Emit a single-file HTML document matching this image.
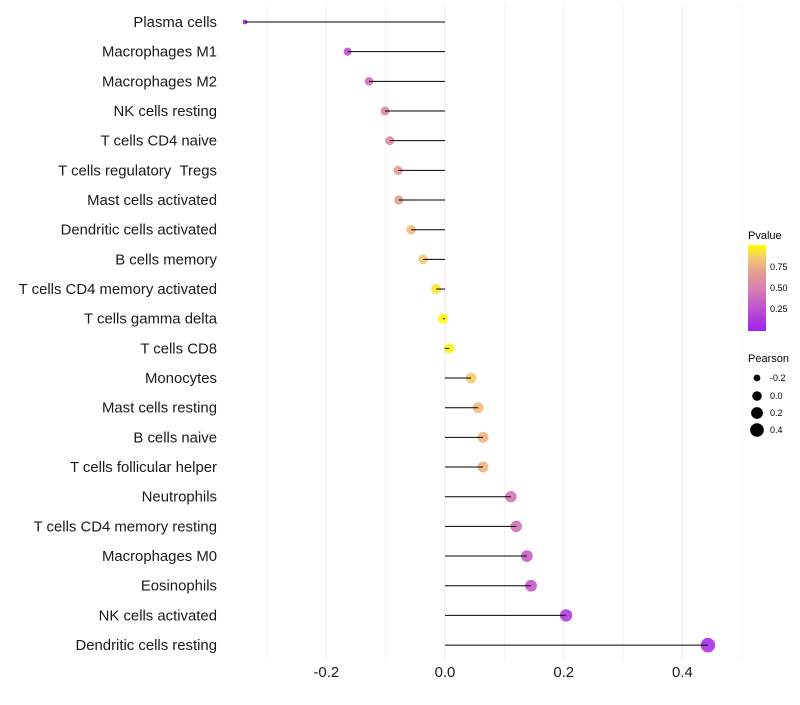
<!DOCTYPE html>
<html><head><meta charset="utf-8"><style>
body{margin:0;background:#fff;font-family:"Liberation Sans",Arial,sans-serif}
svg text{font-family:"Liberation Sans",Arial,sans-serif}
</style></head><body>
<svg id="chart" width="800" height="700">
<defs>
<linearGradient id="pg" x1="0" y1="1" x2="0" y2="0">
<stop offset="0" stop-color="#a020f0"/><stop offset="0.5" stop-color="#d880b0"/><stop offset="0.7" stop-color="#e8a090"/><stop offset="0.85" stop-color="#f4c870"/><stop offset="1" stop-color="#ffff00"/>
</linearGradient></defs>
<g id="grid"></g><g id="points"></g><g id="marks"></g><g id="ylab"></g><g id="xlab"></g>
<g>
<text x="748" y="239" font-size="11">Pvalue</text>
<rect x="748" y="245" width="18" height="86" fill="url(#pg)"/>
<text x="770" y="270" font-size="9">0.75</text><text x="770" y="291" font-size="9">0.50</text><text x="770" y="312" font-size="9">0.25</text>
</g>
<g>
<text x="748" y="362" font-size="11">Pearson</text>
<circle cx="757" cy="378" r="3.4"/><text x="770" y="381" font-size="9">-0.2</text>
<circle cx="757" cy="396" r="4.8"/><text x="770" y="399" font-size="9">0.0</text>
<circle cx="757" cy="413" r="5.9"/><text x="770" y="416" font-size="9">0.2</text>
<circle cx="757" cy="430" r="6.8"/><text x="770" y="433" font-size="9">0.4</text>
</g>
</svg>
<script>
const cells=["Plasma cells","Macrophages M1","Macrophages M2","NK cells resting","T cells CD4 naive","T cells regulatory\u00a0\u00a0Tregs","Mast cells activated","Dendritic cells activated","B cells memory","T cells CD4 memory activated","T cells gamma delta","T cells CD8","Monocytes","Mast cells resting","B cells naive","T cells follicular helper","Neutrophils","T cells CD4 memory resting","Macrophages M0","Eosinophils","NK cells activated","Dendritic cells resting"];
const pearson=[-0.337,-0.164,-0.128,-0.101,-0.093,-0.079,-0.078,-0.057,-0.037,-0.015,-0.003,0.007,0.044,0.056,0.064,0.064,0.111,0.12,0.138,0.145,0.204,0.443];
const pvalue=[0.02,0.25,0.4,0.53,0.58,0.66,0.68,0.8,0.85,0.93,0.98,0.97,0.86,0.8,0.77,0.77,0.45,0.42,0.33,0.3,0.15,0.08];
const xTicks=[-0.2,0,0.2,0.4];
const xTickLabels=["-0.2","0.0","0.2","0.4"];
const NS="http://www.w3.org/2000/svg";
const X=v=>445+v*593.5;
const Y=i=>22+i*29.67;
const R=v=>Math.sqrt(Math.max(4,26+60*v));
function lerp(a,b,t){return a.map((x,i)=>Math.round(x+(b[i]-x)*t));}
const stops=[[0,[160,32,240]],[0.5,[216,128,176]],[0.7,[232,160,144]],[0.85,[244,200,112]],[1,[255,255,0]]];
function col(p){for(let i=0;i<stops.length-1;i++){if(p<=stops[i+1][0]){const t=(p-stops[i][0])/(stops[i+1][0]-stops[i][0]);const c=lerp(stops[i][1],stops[i+1][1],t);return `rgb(${c})`;}}return "rgb(255,255,0)";}
function mk(tag,attrs,parent){const e=document.createElementNS(NS,tag);for(const k in attrs)e.setAttribute(k,attrs[k]);document.getElementById(parent).appendChild(e);return e;}
for(let v=-0.3;v<=0.51;v+=0.1){const g=mk("line",{x1:X(v),x2:X(v),y1:5,y2:660,stroke:"#ebebeb","stroke-width":Math.abs(Math.round(v*10))%2===0?1:0.6},"grid");

}
cells.forEach((c,i)=>{
const p=mk("circle",{cx:X(pearson[i]),cy:Y(i),r:R(pearson[i]),fill:col(pvalue[i]),"fill-opacity":0.9},"points");


const l=mk("line",{x1:X(0),x2:X(pearson[i]),y1:Y(i),y2:Y(i),stroke:"#000","stroke-width":1},"marks");


const t=mk("text",{x:217,y:Y(i)+5,"text-anchor":"end","font-size":14.9,fill:"#1a1a1a"},"ylab");t.textContent=c;


});
xTicks.forEach((v,i)=>{const t=mk("text",{x:X(v),y:677,"text-anchor":"middle","font-size":14.9,fill:"#1a1a1a"},"xlab");t.textContent=xTickLabels[i];

});
</script>
</body></html>
